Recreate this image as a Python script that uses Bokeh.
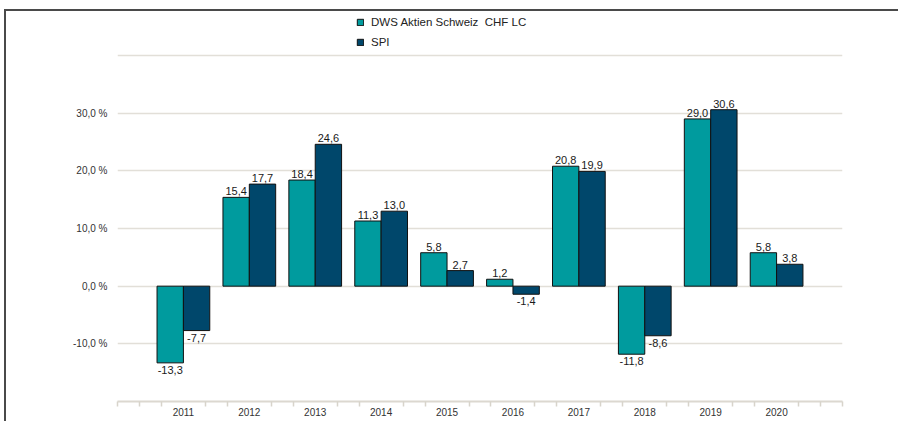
import numpy as np
from bokeh.plotting import figure
from bokeh.layouts import column, row
from bokeh.models import FixedTicker, ColumnDataSource, Div
from bokeh.core.properties import value
from bokeh.embed import file_html
from bokeh.resources import INLINE

# ---- data ----
years = ["2011", "2012", "2013", "2014", "2015", "2016", "2017", "2018", "2019", "2020"]
dws = [-13.3, 15.4, 18.4, 11.3, 5.8, 1.2, 20.8, -11.8, 29.0, 5.8]
spi = [-7.7, 17.7, 24.6, 13.0, 2.7, -1.4, 19.9, -8.6, 30.6, 3.8]
series_names = ["DWS Aktien Schweiz  CHF LC", "SPI"]
y_label_ticks = [-10, 0, 10, 20, 30]
y_grid_ticks = [-10, 0, 10, 20, 30, 40]

TEAL = "#009B9E"
NAVY = "#00476B"
FONT = "Liberation Sans"
BORDER = "#4a4a4a"

idx = np.arange(1, len(years) + 1)
n_slots = len(years) + 1

def fmt(v):
    return f"{v:.1f}".replace(".", ",")

p = figure(x_range=(0, n_slots), y_range=(-20, 47.63),
           frame_width=725, frame_height=390,
           min_border_left=111, min_border_right=42,
           min_border_top=0, min_border_bottom=20,
           output_backend="svg", toolbar_location=None)
p.outline_line_color = None
p.background_fill_color = "white"

src_d = ColumnDataSource(dict(x=idx - 0.2, top=dws))
src_s = ColumnDataSource(dict(x=idx + 0.2, top=spi))

p.vbar(x="x", top="top", bottom=0, width=0.4, source=src_d, fill_color=TEAL,
       line_color="#111111", line_width=1, legend_label=series_names[0])
p.vbar(x="x", top="top", bottom=0, width=0.4, source=src_s, fill_color=NAVY,
       line_color="#111111", line_width=1, legend_label=series_names[1])

# value labels
for xs, vals in ((idx - 0.2, dws), (idx + 0.2, spi)):
    pos = [i for i, v in enumerate(vals) if v >= 0]
    neg = [i for i, v in enumerate(vals) if v < 0]
    p.text(x=[xs[i] for i in pos], y=[vals[i] for i in pos], text=[fmt(vals[i]) for i in pos],
           text_align="center", text_baseline="bottom", y_offset=-2,
           text_font=value(FONT), text_font_size="11px", text_color="#1a1a1a")
    p.text(x=[xs[i] for i in neg], y=[vals[i] for i in neg], text=[fmt(vals[i]) for i in neg],
           text_align="center", text_baseline="top", y_offset=3,
           text_font=value(FONT), text_font_size="11px", text_color="#1a1a1a")

# y axis
p.yaxis.ticker = FixedTicker(ticks=y_label_ticks)
p.yaxis.major_label_overrides = {t: f"{t:.1f}".replace(".", ",") + " %" for t in y_label_ticks}
p.yaxis.axis_line_color = None
p.yaxis.major_tick_line_color = None
p.yaxis.minor_tick_line_color = None
p.yaxis.major_label_standoff = 4
p.yaxis.major_label_text_font = FONT
p.yaxis.major_label_text_font_size = "10px"
p.yaxis.major_label_text_color = "#333333"

p.ygrid.ticker = FixedTicker(ticks=y_grid_ticks)
p.ygrid.grid_line_color = "#e2dfd8"
p.ygrid.grid_line_width = 1.5
p.xgrid.grid_line_color = None

# x axis
minor = [k / 3 for k in range(0, 3 * n_slots + 1) if k % 3 != 0 or k in (0, 3 * n_slots)]
p.xaxis.ticker = FixedTicker(ticks=list(idx), minor_ticks=minor)
p.xaxis.major_label_overrides = {int(i): y for i, y in zip(idx, years)}
p.xaxis.axis_line_color = "#dcd8d0"
p.xaxis.axis_line_width = 2
p.xaxis.major_tick_line_color = None
p.xaxis.minor_tick_out = 5
p.xaxis.minor_tick_in = 0
p.xaxis.minor_tick_line_color = "#d8d4cb"
p.xaxis.minor_tick_line_width = 1.5
p.xaxis.major_label_standoff = 0
p.xaxis.major_label_text_font = FONT
p.xaxis.major_label_text_font_size = "10px"
p.xaxis.major_label_text_color = "#333333"

# legend
lg = p.legend[0]
lg.location = (239, 352)
lg.orientation = "vertical"
lg.border_line_color = None
lg.background_fill_alpha = 0
lg.padding = 0
lg.margin = 0
lg.spacing = 6
lg.glyph_width = 8
lg.glyph_height = 8
lg.label_height = 14
lg.label_standoff = 7
lg.label_text_font = FONT
lg.label_text_font_size = "11.5px"
lg.label_text_color = "#222222"

top_rule = Div(text="", width=894, height=2, margin=0,
               styles={"background-color": BORDER})
left_rule = Div(text="", width=2, height=410, margin=0,
                styles={"background-color": BORDER})
page = column(top_rule, row(left_rule, p, spacing=0), spacing=0,
              styles={"margin-left": "4px", "margin-top": "9px"})

open("out.html", "w").write(file_html(page, INLINE))
